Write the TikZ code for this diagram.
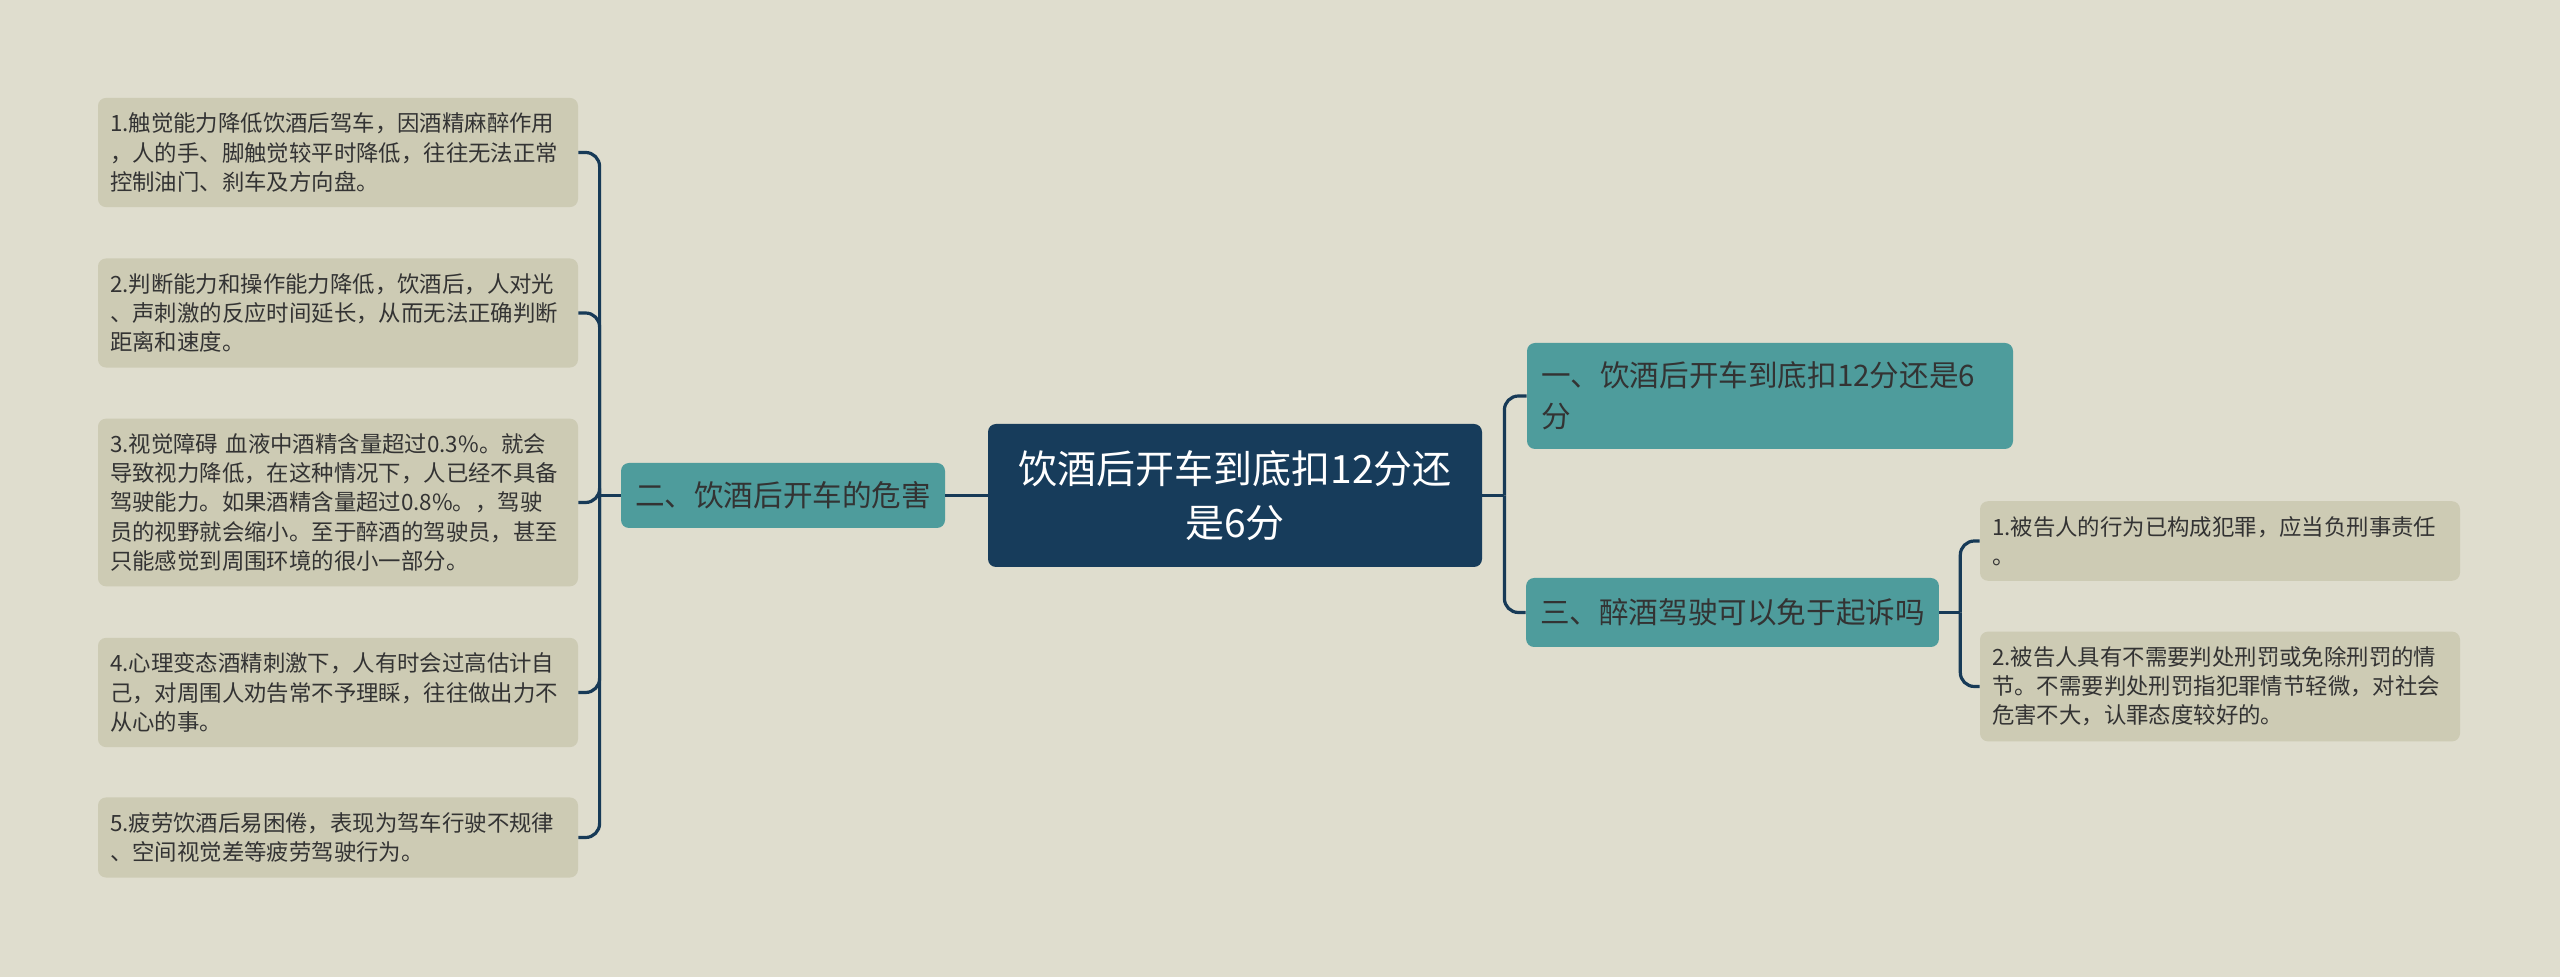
\documentclass[tikz,border=0pt]{standalone}
\usepackage{fontspec}
\setmainfont{Noto Sans CJK SC}
\usetikzlibrary{positioning}
\pgfdeclarelayer{background}
\pgfsetlayers{background,main}
\definecolor{bgcol}{HTML}{DFDDCE}
\definecolor{rootcol}{HTML}{173C5B}
\definecolor{tealcol}{HTML}{4E9C9C}
\definecolor{leafcol}{HTML}{CDCBB4}
\definecolor{linecol}{HTML}{173A57}
\definecolor{textcol}{HTML}{333333}

\begin{document}
\begin{tikzpicture}[x=0.5pt,y=-0.5pt,
					rootnode/.style={rectangle, fill=rootcol, rounded corners=4pt, text=white, align=center, minimum width=247pt, minimum height=71.5pt, font=\fontsize{19.5pt}{27pt}\selectfont},
					branchnode/.style={rectangle, fill=tealcol, rounded corners=4pt, text=textcol, inner xsep=7pt, font=\fontsize{14.8pt}{20.5pt}\selectfont},
					leafnode/.style={rectangle, fill=leafcol, rounded corners=4pt, text=textcol, align=left, text width=228pt, inner xsep=6pt, inner ysep=7.5pt, font=\fontsize{11.2pt}{14.6pt}\selectfont},
					link/.style={draw=linecol, line width=1.6pt, rounded corners=7pt},
					]
					\begin{pgfonlayer}{background}
					\fill[bgcol] (0,0) rectangle (2560,977);
					\end{pgfonlayer}
					%Nodes
					\node[rootnode]      (root)  at (1235,495.5)  {饮酒后开车到底扣12分还\\是6分};
					\node[branchnode, align=left, text width=229pt, minimum height=53pt] (b1) at (1770,396) {一、饮酒后开车到底扣12分还是6\\分};
					\node[branchnode, minimum height=32.5pt] (b2) at (783,495.5) {二、饮酒后开车的危害};
					\node[branchnode, minimum height=34.5pt] (b3) at (1732.5,612.5) {三、醉酒驾驶可以免于起诉吗};

					\node[leafnode]      (l1)    at (338,152.5)   {1.触觉能力降低饮酒后驾车，因酒精麻醉作用\\，人的手、脚触觉较平时降低，往往无法正常\\控制油门、刹车及方向盘。};
					\node[leafnode]      (l2)    at (338,313)     {2.判断能力和操作能力降低，饮酒后，人对光\\、声刺激的反应时间延长，从而无法正确判断\\距离和速度。};
					\node[leafnode]      (l3)    at (338,502.5)   {3.视觉障碍 血液中酒精含量超过0.3\%。就会\\导致视力降低，在这种情况下，人已经不具备\\驾驶能力。如果酒精含量超过0.8\%。，驾驶\\员的视野就会缩小。至于醉酒的驾驶员，甚至\\只能感觉到周围环境的很小一部分。};
					\node[leafnode]      (l4)    at (338,692.5)   {4.心理变态酒精刺激下，人有时会过高估计自\\己，对周围人劝告常不予理睬，往往做出力不\\从心的事。};
					\node[leafnode]      (l5)    at (338,837.5)   {5.疲劳饮酒后易困倦，表现为驾车行驶不规律\\、空间视觉差等疲劳驾驶行为。};

					\node[leafnode]      (r1)    at (2220,541)    {1.被告人的行为已构成犯罪，应当负刑事责任\\。};
					\node[leafnode]      (r2)    at (2220,686.5)  {2.被告人具有不需要判处刑罚或免除刑罚的情\\节。不需要判处刑罚指犯罪情节轻微，对社会\\危害不大，认罪态度较好的。};

					%Junctions
					\coordinate (jl) at ([xshift=-10.5pt]b2.west);
					\coordinate (jr) at ([xshift=11pt]root.east);
					\coordinate (js) at ([xshift=10.5pt]b3.east);

					%Lines
					\draw[link] (root.west) -- (b2.east);
					\draw[link] (b2.west) -- (jl);
					\draw[link] (jl) |- (l1.east);
					\draw[link] (jl) |- (l2.east);
					\draw[link] (jl) |- (l3.east);
					\draw[link] (jl) |- (l4.east);
					\draw[link] (jl) |- (l5.east);

					\draw[link] (root.east) -- (jr);
					\draw[link] (jr) |- (b1.west);
					\draw[link] (jr) |- (b3.west);

					\draw[link] (b3.east) -- (js);
					\draw[link] (js) |- (r1.west);
					\draw[link] (js) |- (r2.west);
				\end{tikzpicture}
\end{document}
